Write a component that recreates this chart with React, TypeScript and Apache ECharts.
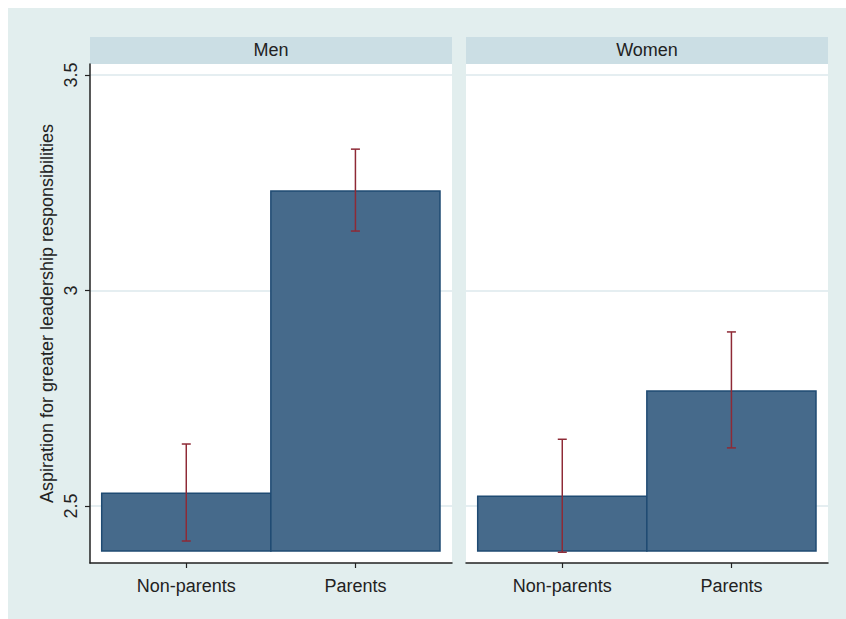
import React, { useEffect, useRef } from "react";
import * as echarts from "echarts";

const panels = ["Men", "Women"];
const categories = ["Non-parents", "Parents"];
const yTitle = "Aspiration for greater leadership responsibilities";
// means per panel (Men, Women)
const menMeans = [2.530, 3.231];
const womenMeans = [2.523, 2.767];
const menLow = [2.419, 3.138];
const menHigh = [2.644, 3.328];
const womenLow = [2.393, 2.635];
const womenHigh = [2.655, 2.904];
const barBase = 2.396;
const yTicks = [2.5, 3, 3.5];
const yMin = 2.368;
const yMax = 3.5255;

const BG = "#e2eeee";
const HEADER = "#cbdee4";
const GRID = "#dde9ec";
const BAR = "#466a8b";
const BAR_BORDER = "#1f4b73";
const ERR = "#8e2a36";
const FONT = "Liberation Sans, Arial, Helvetica, sans-serif";

export default function App() {
  const ref = useRef<HTMLDivElement>(null);
  useEffect(() => {
    if (!ref.current) return;
    document.documentElement.style.overflow = "hidden";
    const chart = echarts.init(ref.current, undefined, { renderer: "svg" });
    const panelLeft = [82, 458];
    const panelW = 362;
    const plotTop = 56;
    const plotH = 499;
    const grids: any[] = [];
    const xAxes: any[] = [];
    const yAxes: any[] = [];
    const series: any[] = [];
    const graphics: any[] = [];
    const means = [menMeans, womenMeans];
    const lows = [menLow, womenLow];
    const highs = [menHigh, womenHigh];

    panels.forEach((name, p) => {
      const L = panelLeft[p];
      grids.push({ left: L, top: plotTop, width: panelW, height: plotH, show: true, backgroundColor: "#ffffff", borderWidth: 0 });
      grids.push({ left: L, top: 67, width: panelW, height: 431, show: false });
      grids.push({ left: L + 11.7, top: plotTop, width: 338.3, height: plotH, show: false });

      const gi = p * 3;
      xAxes.push({ gridIndex: gi, type: "value", min: 0, max: 1, axisLine: { show: true, onZero: false, lineStyle: { color: "#222", width: 1.5 } }, axisTick: { show: false }, axisLabel: { show: false }, splitLine: { show: false } });
      yAxes.push({ gridIndex: gi, type: "value", min: yMin, max: yMax, axisLine: { show: p === 0, lineStyle: { color: "#222", width: 1.5 } }, axisTick: { show: false }, axisLabel: { show: false }, splitLine: { show: false },
        name: p === 0 ? yTitle : "", nameLocation: "middle", nameGap: 34, nameTextStyle: { fontFamily: FONT, fontSize: 18, color: "#222" } });
      xAxes.push({ gridIndex: gi + 1, type: "value", min: 0, max: 1, show: false });
      yAxes.push({ gridIndex: gi + 1, type: "value", min: yTicks[0], max: yTicks[yTicks.length - 1], interval: 0.5,
        axisLine: { show: false }, axisTick: { show: p === 0, length: 5, lineStyle: { color: "#222", width: 1.2 } },
        axisLabel: { show: p === 0, rotate: 90, margin: 10, fontFamily: FONT, fontSize: 18, color: "#222", formatter: (v: number) => String(v) },
        splitLine: { show: true, lineStyle: { color: GRID, width: 1.5 } } });
      xAxes.push({ gridIndex: gi + 2, type: "category", data: categories, boundaryGap: true,
        axisLine: { show: false }, axisTick: { show: true, alignWithLabel: true, length: 5, lineStyle: { color: "#222", width: 1.2 } },
        axisLabel: { margin: 14, fontFamily: FONT, fontSize: 18, color: "#222" }, splitLine: { show: false } });
      yAxes.push({ gridIndex: gi + 2, type: "value", min: yMin, max: yMax, show: false });

      series.push({
        type: "custom", xAxisIndex: gi + 2, yAxisIndex: gi + 2, z: 2,
        data: categories.map((c, i) => [i, means[p][i], barBase]),
        renderItem: (params: any, api: any) => {
          const x = api.value(0), v = api.value(1), b = api.value(2);
          const top = api.coord([x, v]);
          const bot = api.coord([x, b]);
          const w = api.size([1, 0])[0];
          return { type: "rect", shape: { x: top[0] - w / 2, y: top[1], width: w, height: bot[1] - top[1] },
            style: { fill: BAR, stroke: BAR_BORDER, lineWidth: 1.5 } };
        },
      });
      series.push({
        type: "custom", xAxisIndex: gi + 2, yAxisIndex: gi + 2, z: 3,
        data: categories.map((c, i) => [i, lows[p][i], highs[p][i]]),
        renderItem: (params: any, api: any) => {
          const x = api.value(0);
          const lo = api.coord([x, api.value(1)]);
          const hi = api.coord([x, api.value(2)]);
          const cap = 4.5;
          const st = { stroke: ERR, lineWidth: 1.5 };
          return { type: "group", children: [
            { type: "line", shape: { x1: lo[0], y1: lo[1], x2: hi[0], y2: hi[1] }, style: st },
            { type: "line", shape: { x1: lo[0] - cap, y1: lo[1], x2: lo[0] + cap, y2: lo[1] }, style: st },
            { type: "line", shape: { x1: hi[0] - cap, y1: hi[1], x2: hi[0] + cap, y2: hi[1] }, style: st },
          ] };
        },
      });

      graphics.push({ type: "rect", left: L, top: 29, shape: { width: panelW, height: 27 }, style: { fill: HEADER } });
      graphics.push({ type: "text", x: L + panelW / 2, y: 41.5, style: { text: name, fontFamily: FONT, fontSize: 18, fill: "#222", textAlign: "center", textVerticalAlign: "middle" } });
    });

    chart.setOption({
      animation: false,
      backgroundColor: BG,
      grid: grids,
      xAxis: xAxes,
      yAxis: yAxes,
      series,
      graphic: graphics,
    });
    return () => chart.dispose();
  }, []);
  return <div ref={ref} style={{ position: "absolute", left: 8, top: 8, width: 838, height: 611 }} />;
}
